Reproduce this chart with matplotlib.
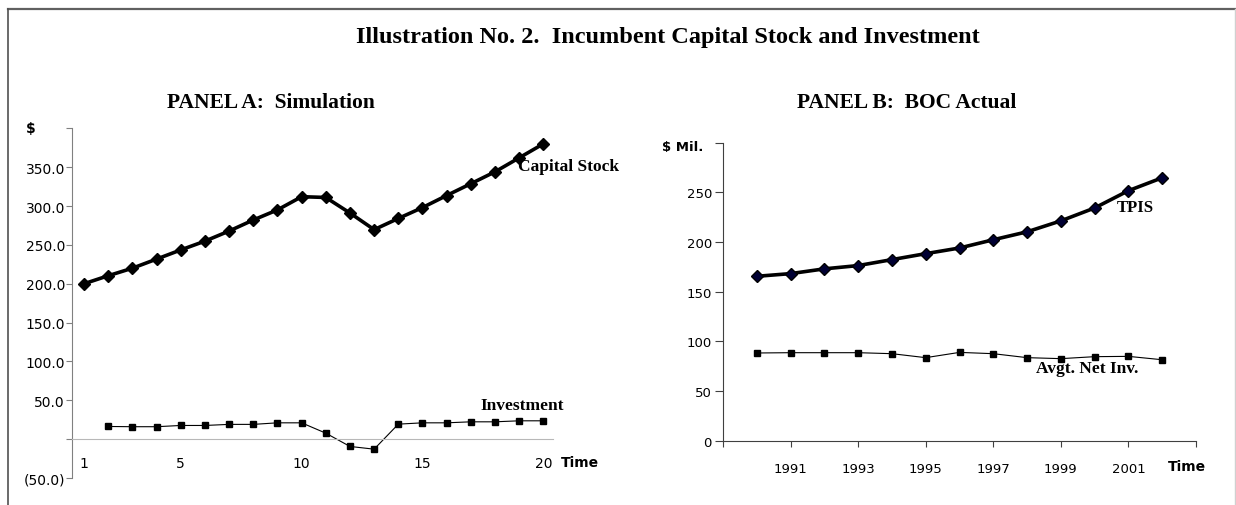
import matplotlib
matplotlib.use('Agg')
import matplotlib.pyplot as plt
from matplotlib.lines import Line2D
from matplotlib.ticker import FuncFormatter

# Panel A: simulation
sim_time = list(range(1, 21))
capital_stock = [200, 210.3, 220, 231.7, 243.5, 254.8, 267.8, 282, 295, 312,
                 311, 291, 269.6, 284, 298, 313.5, 328.7, 344, 362, 380]
inv_time = list(range(2, 21))
investment = [16.3, 16, 16, 17.6, 17.6, 19, 19, 21, 21, 7.7, -9.4, -12.9,
              19.3, 21, 21, 22.3, 22.3, 23.6, 23.6]
a_xticks = [1, 5, 10, 15, 20]

# Panel B: BOC actual
years = list(range(1990, 2003))
tpis = [165.5, 168.2, 173, 176.3, 182.3, 188.3, 194, 202.3, 210.3, 221.3,
        234.3, 251.7, 264.7]
net_inv = [88.3, 88.6, 88.6, 88.6, 87.6, 83.6, 88.9, 87.6, 83.6, 82.6,
           84.6, 84.9, 81.5]
b_xticks = list(range(1989, 2004, 2))
b_xlabels = ['', '1991', '1993', '1995', '1997', '1999', '2001', '']

W, H = 1236, 506
SERIF = 'Liberation Serif'


def px_rect(x0, y_top, x1, y_bot):
    return [x0 / W, 1 - y_bot / H, (x1 - x0) / W, (y_bot - y_top) / H]


def fx(x):
    return x / W


def fy(y):
    return 1 - y / H


fig = plt.figure(figsize=(W / 100, H / 100), dpi=100)

# frame round the picture
fig.add_artist(Line2D([fx(8), 1], [fy(10), fy(10)], color='#606060', lw=1.6))
fig.add_artist(Line2D([fx(8), fx(8)], [0, fy(10)], color='#505050', lw=1.2))
fig.add_artist(Line2D([fx(1234.5), fx(1234.5)], [0, fy(10)], color='#d0d0d0', lw=1.0))

fig.text(fx(356), fy(38), 'Illustration No. 2.  Incumbent Capital Stock and Investment',
         ha='left', va='center', fontfamily=SERIF, fontweight='bold', fontsize=17.5)

# ---- Panel A
axA = fig.add_axes(px_rect(72, 129.3, 553, 479))
axA.plot(sim_time, capital_stock, color='black', lw=2.6, marker='D', ms=6.5)
axA.plot(inv_time, investment, color='black', lw=0.8, marker='s', ms=4.5)
axA.set_xlim(0.5, 20.4)
axA.set_ylim(-50, 400)
for s in ['top', 'right']:
    axA.spines[s].set_visible(False)
axA.spines['left'].set_color('#808080')
axA.spines['bottom'].set_position(('data', 0))
axA.spines['bottom'].set_color('#b8b8b8')
axA.set_yticks(range(-50, 401, 50))


def fmt_a(v, pos):
    if v == 0 or v == 400:
        return ''
    if v < 0:
        return '(%.1f)' % -v
    return '%.1f' % v


axA.yaxis.set_major_formatter(FuncFormatter(fmt_a))
axA.tick_params(axis='y', length=4, width=0.8, color='#808080', pad=1, labelsize=10)
axA.set_xticks(a_xticks)
axA.tick_params(axis='x', length=0, pad=12, labelsize=10)
fig.text(fx(561), fy(463), 'Time', ha='left', va='center', fontsize=10, fontweight='bold')
fig.text(fx(26), fy(129), '$', ha='left', va='center', fontsize=10, fontweight='bold')
fig.text(fx(167), fy(103), 'PANEL A:  Simulation', ha='left', va='center',
         fontfamily=SERIF, fontweight='bold', fontsize=15.5)
fig.text(fx(518), fy(167), 'Capital Stock', ha='left', va='center',
         fontfamily=SERIF, fontweight='bold', fontsize=12.5)
fig.text(fx(480), fy(406), 'Investment', ha='left', va='center',
         fontfamily=SERIF, fontweight='bold', fontsize=12.5)

# ---- Panel B
axB = fig.add_axes(px_rect(723, 143.7, 1196, 441.7))
axB.plot(years, tpis, color='black', lw=2.6, marker='D', ms=6.5,
         markerfacecolor='#000033', markeredgecolor='black')
axB.plot(years, net_inv, color='black', lw=0.8, marker='s', ms=5)
axB.set_xlim(1989, 2003)
axB.set_ylim(0, 300)
for s in ['top', 'right']:
    axB.spines[s].set_visible(False)
for s in ['left', 'bottom']:
    axB.spines[s].set_color('#404040')
axB.set_yticks(range(0, 301, 50))
axB.set_yticklabels(['0', '50', '100', '150', '200', '250', ''])
axB.tick_params(axis='y', length=6, width=0.8, color='#404040', pad=2, labelsize=9.5)
axB.set_xticks(b_xticks)
axB.set_xticklabels(b_xlabels)
axB.tick_params(axis='x', length=4, width=0.8, color='#404040', pad=11, labelsize=9.5)
fig.text(fx(1168), fy(467), 'Time', ha='left', va='center', fontsize=10, fontweight='bold')
fig.text(fx(662), fy(147), '$ Mil.', ha='left', va='center', fontsize=9.5, fontweight='bold')
fig.text(fx(797), fy(103), 'PANEL B:  BOC Actual', ha='left', va='center',
         fontfamily=SERIF, fontweight='bold', fontsize=15.5)
fig.text(fx(1117), fy(208), 'TPIS', ha='left', va='center',
         fontfamily=SERIF, fontweight='bold', fontsize=12)
fig.text(fx(1036), fy(369), 'Avgt. Net Inv.', ha='left', va='center',
         fontfamily=SERIF, fontweight='bold', fontsize=12.5)

fig.savefig('out.png', dpi=100)
